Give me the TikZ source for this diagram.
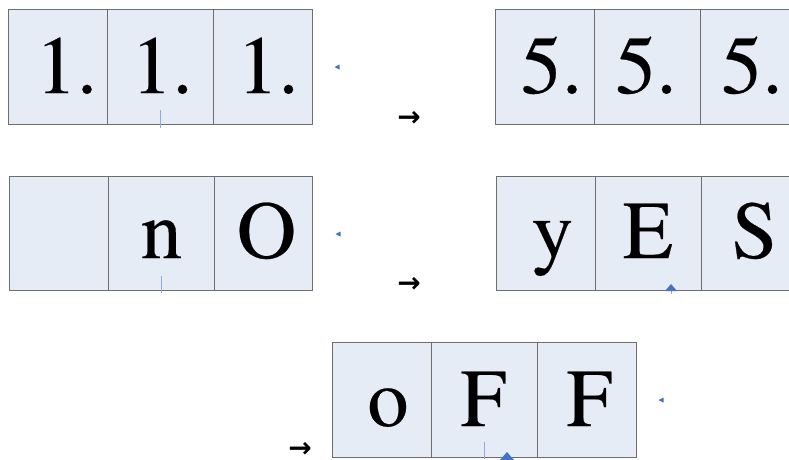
\documentclass[tikz,border=0pt]{standalone}
\usepackage{fontspec}
\setmainfont{Liberation Serif}
\newfontfamily\glyphfont[FakeBold=0.3]{texgyretermes-regular.otf}
\newfontfamily\arrowfont{DejaVu Sans}
\definecolor{cellfill}{HTML}{E6ECF6}
\definecolor{cellline}{HTML}{6E6E6E}
\definecolor{accent}{HTML}{4472C4}
\definecolor{guide}{HTML}{8FAADC}
\begin{document}
\begin{tikzpicture}[x=1pt,y=-1pt,
  cell/.style={draw=cellline, fill=cellfill, line width=0.9pt, inner sep=0pt, outer sep=0pt},
  glyph/.style={font=\glyphfont\fontsize{82}{82}\selectfont, anchor=base, inner sep=0pt},
  arr/.style={font=\arrowfont\bfseries\fontsize{28}{28}\selectfont, anchor=base, inner sep=0pt, text height=14pt, text depth=0pt},
  guideline/.style={draw=guide, line width=1pt},
  marker/.style={fill=accent}]
\clip (0,0) rectangle (789,459);
\fill[white] (0,0) rectangle (789,459);
% row 1 left
\node[cell, minimum width=99pt, minimum height=115pt] (a1) at (57.5,66.5) {};
\node[cell, minimum width=106pt, minimum height=115pt] (a2) at (160,66.5) {};
\node[cell, minimum width=99pt, minimum height=115pt] (a3) at (262.5,66.5) {};
% row 1 right
\node[cell, minimum width=99pt, minimum height=115pt] (b1) at (544.5,66.5) {};
\node[cell, minimum width=106pt, minimum height=115pt] (b2) at (647,66.5) {};
\node[cell, minimum width=99pt, minimum height=115pt] (b3) at (749.5,66.5) {};
% row 2 left
\node[cell, minimum width=99pt, minimum height=114pt] (c1) at (58.5,233) {};
\node[cell, minimum width=106pt, minimum height=114pt] (c2) at (161,233) {};
\node[cell, minimum width=98pt, minimum height=114pt] (c3) at (263,233) {};
% row 2 right
\node[cell, minimum width=99.5pt, minimum height=114pt] (d1) at (545.75,233) {};
\node[cell, minimum width=105.5pt, minimum height=114pt] (d2) at (648.25,233) {};
\node[cell, minimum width=99pt, minimum height=114pt] (d3) at (750.5,233) {};
% row 3
\node[cell, minimum width=99pt, minimum height=115pt] (e1) at (381.5,399.5) {};
\node[cell, minimum width=106pt, minimum height=115pt] (e2) at (484,399.5) {};
\node[cell, minimum width=99pt, minimum height=115pt] (e3) at (586.5,399.5) {};
% glyphs
\node[glyph] (ta1) at (66.5,93) {1.};
\node[glyph] (ta2) at (162,93) {1.};
\node[glyph] (ta3) at (268,93) {1.};
\node[glyph] (tb1) at (551.5,93) {5.};
\node[glyph] (tb2) at (646,93) {5.};
\node[glyph] (tb3) at (752,93) {5.};
\node[glyph] (tc2) at (161.5,258) {n};
\node[glyph] (tc3) at (266.5,258) {O};
\node[glyph] (td1) at (552.5,258) {y};
\node[glyph] (td2) at (648,258) {E};
\node[glyph] (td3) at (754.5,258) {S};
\node[glyph] (te1) at (388,426) {o};
\node[glyph] (te2) at (483.5,426) {F};
\node[glyph] (te3) at (589.5,426) {F};
% arrows as text
\node[arr] (r1) at (409,126) {→};
\node[arr] (r2) at (409,292.5) {→};
\node[arr] (r3) at (300,457) {→};
% guide lines
\draw[guideline] (160,110) -- (160,128);
\draw[guideline] (161,276) -- (161,293);
\draw[guideline] (484,442) -- (484,459);
\draw[guideline] (671,289) -- (671,294);
% markers
\fill[marker] (334.5,67) -- (339.5,64.5) -- (339.5,69.5) -- cycle;
\fill[marker] (335.5,234) -- (340.5,231.5) -- (340.5,236.5) -- cycle;
\fill[marker] (658.5,400) -- (663.5,397.5) -- (663.5,402.5) -- cycle;
\fill[marker] (671,284) -- (677,291) -- (665,291) -- cycle;
\fill[marker] (507,452) -- (514,460) -- (500,460) -- cycle;
\end{tikzpicture}
\end{document}
